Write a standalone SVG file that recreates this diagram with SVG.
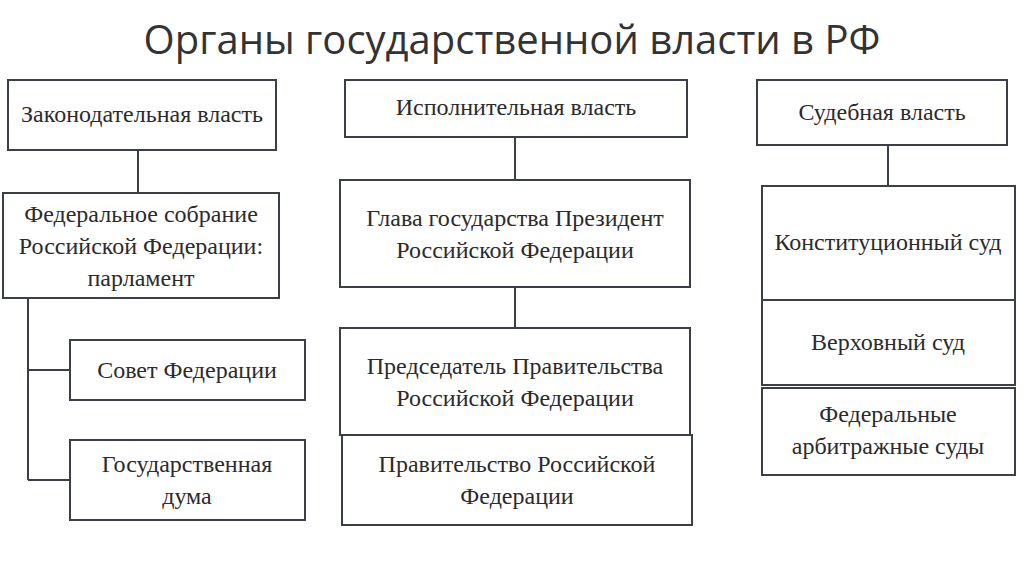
<svg xmlns="http://www.w3.org/2000/svg" width="1024" height="574" viewBox="0 0 1024 574">
<style>
.b{fill:#fff;stroke:#3a3f48;stroke-width:2}
.t{font-family:"Liberation Serif",serif;font-size:24px;fill:#2b2b2b;text-anchor:middle}
.c{stroke:#3a3f48;stroke-width:2;fill:none}
</style>
<rect width="1024" height="574" fill="#fff"/>
<text x="512" y="54" style="font-family:'Open Sans','Liberation Sans',sans-serif;font-size:40px;fill:#333;text-anchor:middle">Органы государственной власти в РФ</text>
<g id="connectors">
<path class="c" d="M138 150V193M28 298V480M28 370H70M28 480H70M515 137V180M515 287V328M888 145V186"/>
</g>
<g id="n1"><rect class="b" x="8" y="80" width="268" height="70"/><text class="t" x="142" y="122">Законодательная власть</text></g>
<g id="n2"><rect class="b" x="3" y="193" width="276" height="105"/><text class="t" x="141" y="222">Федеральное собрание</text><text class="t" x="141" y="254">Российской Федерации:</text><text class="t" x="141" y="286">парламент</text></g>
<g id="n3"><rect class="b" x="70" y="340" width="235" height="60"/><text class="t" x="187" y="378">Совет Федерации</text></g>
<g id="n4"><rect class="b" x="70" y="440" width="235" height="80"/><text class="t" x="187" y="472">Государственная</text><text class="t" x="187" y="504">дума</text></g>
<g id="n5"><rect class="b" x="345" y="80" width="342" height="57"/><text class="t" x="516" y="115">Исполнительная власть</text></g>
<g id="n6"><rect class="b" x="340" y="180" width="350" height="107"/><text class="t" x="515" y="226">Глава государства Президент</text><text class="t" x="515" y="258">Российской Федерации</text></g>
<g id="n7"><rect class="b" x="340" y="328" width="350" height="107"/><text class="t" x="515" y="374">Председатель Правительства</text><text class="t" x="515" y="406">Российской Федерации</text></g>
<g id="n8"><rect class="b" x="342" y="435" width="350" height="90"/><text class="t" x="517" y="472">Правительство Российской</text><text class="t" x="517" y="504">Федерации</text></g>
<g id="n9"><rect class="b" x="757" y="80" width="250" height="65"/><text class="t" x="882" y="120">Судебная власть</text></g>
<g id="n10"><rect class="b" x="762" y="186" width="253" height="114"/><text class="t" x="888" y="250">Конституционный суд</text></g>
<g id="n11"><rect class="b" x="762" y="300" width="253" height="85"/><text class="t" x="888" y="350">Верховный суд</text></g>
<g id="n12"><rect class="b" x="762" y="388" width="253" height="87"/><text class="t" x="888" y="422">Федеральные</text><text class="t" x="888" y="454">арбитражные суды</text></g>
</svg>
